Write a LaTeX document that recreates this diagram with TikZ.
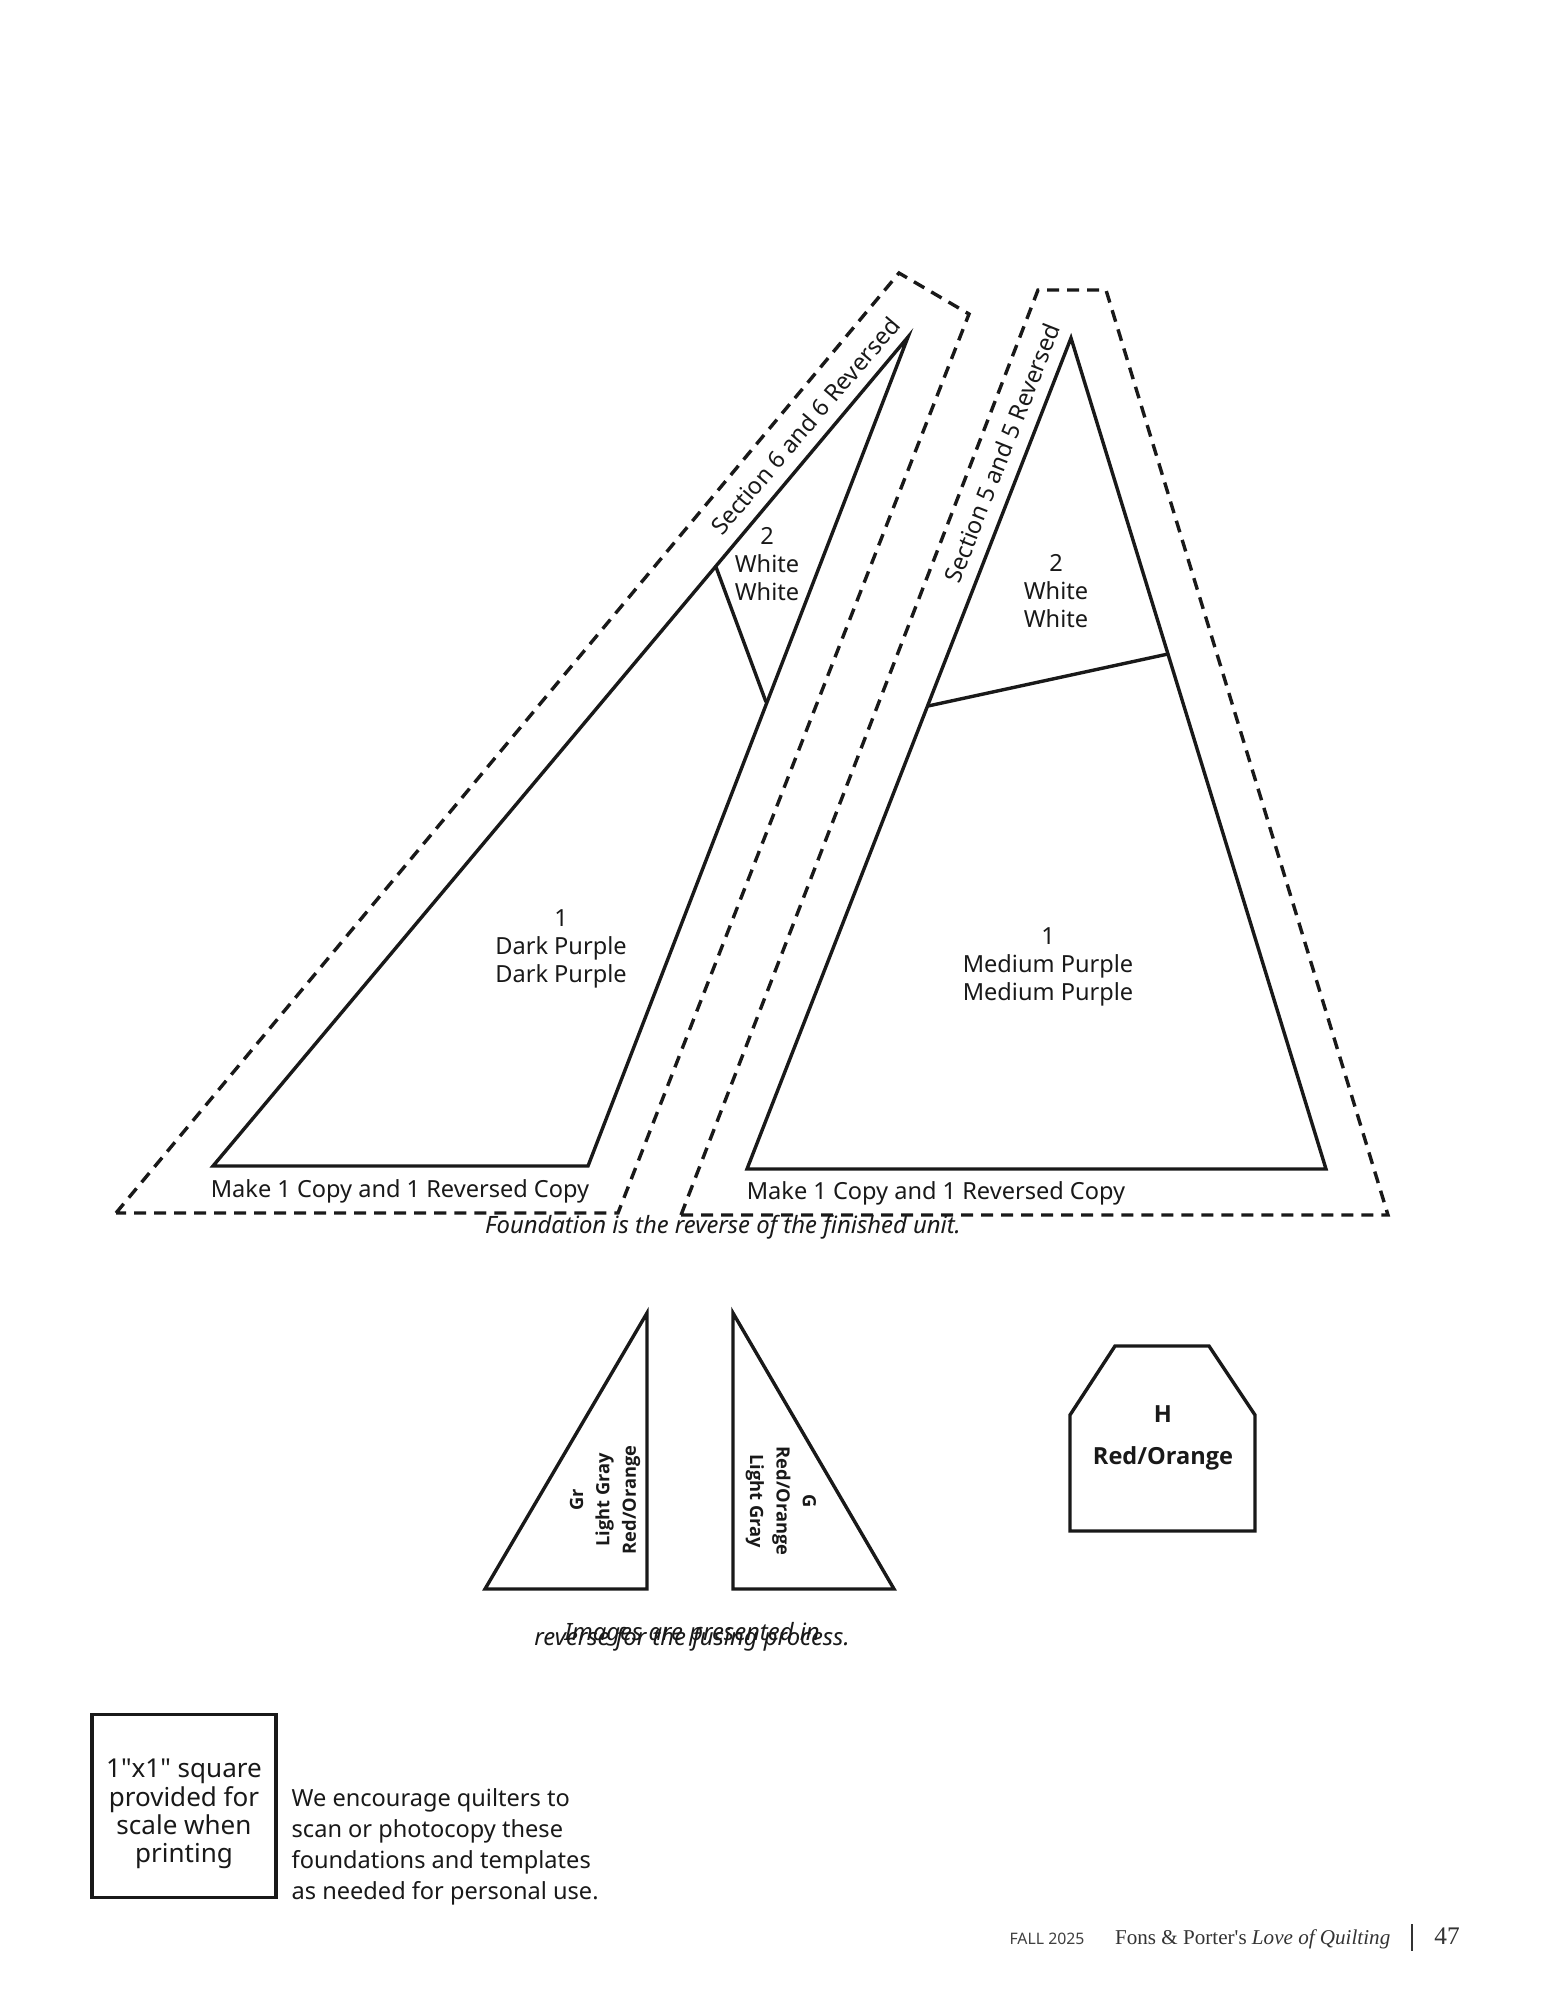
\documentclass[tikz,border=0pt]{standalone}
\usepackage{fontspec}
\setmainfont{Noto Sans}
\newfontfamily\plainfont{Noto Sans}
\newfontfamily\heavyfont{Open Sans}
\newfontfamily\footfont{Liberation Serif}
\tikzstyle{seam} =[line width=0.034cm, line join=miter, black!90]
\tikzstyle{cutline} =[line width=0.034cm, dash pattern=on 0.12cm off 0.08cm, black!90]
\tikzstyle{patch} =[align=center, inner sep=0pt, font=\fontsize{6.7}{7.85}\selectfont, text=black!90]
\tikzstyle{smallpatch} =[patch, font=\heavyfont\fontsize{5.2}{7.5}\selectfont\bfseries]
\tikzstyle{boldpatch} =[patch, font=\heavyfont\fontsize{6.7}{7.85}\selectfont\bfseries]
\tikzstyle{caption} =[inner sep=0pt, font=\fontsize{6.78}{8}\selectfont\itshape, text=black!90]
\begin{document}
\begin{tikzpicture}[x=0.01cm,y=-0.01cm]
		\useasboundingbox (0,0) rectangle (1551,2014);
		\fill[white] (0,0) rectangle (1551,2014);
		% left foundation
		\draw[cutline] (116,1213) -- (899,273) -- (969,314) -- (618,1213) -- cycle;
		\draw[seam] (908,337) -- (213,1166) -- (588,1166) -- cycle;
		\draw[seam] (716,567) -- (766,702);
		\node [patch, rotate=49.5] (secsix) at (805,426) {Section 6 and 6 Reversed};
		\node [patch] (whitesix) at (767,564) {2\\White\\White};
		\node [patch] (darkone) at (561,949) {1\\Dark Purple\\Dark Purple};
		\node [patch] (copysix) at (400,1191) {Make 1 Copy and 1 Reversed Copy};
		% right foundation
		\draw[cutline] (681,1215) -- (1038,290) -- (1106,290) -- (1388,1215) -- cycle;
		\draw[seam] (1071,338) -- (747,1169) -- (1326,1169) -- cycle;
		\draw[seam] (928,706) -- (1168,654);
		\node [patch, rotate=68.5] (secfive) at (1002,453) {Section 5 and 5 Reversed};
		\node [patch] (whitefive) at (1056,591) {2\\White\\White};
		\node [patch] (mediumone) at (1048,967) {1\\Medium Purple\\Medium Purple};
		\node [patch] (copyfive) at (936,1193) {Make 1 Copy and 1 Reversed Copy};
		\node [caption] (foundation) at (723,1227) {Foundation is the reverse of the finished unit.};
		% fusing templates
		\draw[seam] (647,1313) -- (485,1589) -- (647,1589) -- cycle;
		\draw[seam] (733,1313) -- (894,1589) -- (733,1589) -- cycle;
		\draw[seam] (1070,1531) -- (1070,1415) -- (1115,1346) -- (1209,1346) -- (1255,1415) -- (1255,1531) -- cycle;
		\node [smallpatch, rotate=90] (gleft) at (605,1500) {Gr\\Light Gray\\Red/Orange};
		\node [smallpatch, rotate=-90] (gright) at (781,1501) {G\\Red/Orange\\Light Gray};
		\node [boldpatch] (hname) at (1163,1414) {H};
		\node [boldpatch] (hcolor) at (1163,1458) {Red/Orange};
		\node [caption] (imagesone) at (692,1634) {Images are presented in};
		\node [caption] (imagestwo) at (692,1639) {reverse for the fusing process.};
		% scale square
		\node [draw, seam, minimum width=1.84cm, minimum height=1.83cm] (square) at (184,1806) {};
		\node [align=center, inner sep=0pt, font=\plainfont\fontsize{7.4}{8}\selectfont, text=black!90] (squaretext) at (184,1814) {1"x1" square\\provided for\\scale when\\printing};
		\node [anchor=west, align=left, inner sep=0pt, font=\fontsize{6.7}{8.76}\selectfont, text=black!90] (encourage) at (291,1847) {We encourage quilters to\\scan or photocopy these\\foundations and templates\\as needed for personal use.};
		% footer
		\node [inner sep=0pt, font=\fontsize{4.5}{5}\selectfont, text=black!75] (fall) at (1047,1939) {FALL 2025};
		\node [anchor=east, inner sep=0pt, font=\footfont\fontsize{6}{7}\selectfont, text=black!80] (mag) at (1391,1939) {Fons \& Porter's \textit{Love of Quilting}};
		\draw[line width=0.012cm, black!80] (1412,1924) -- (1412,1951);
		\node [inner sep=0pt, font=\footfont\fontsize{7.2}{9}\selectfont, text=black!80] (page) at (1447,1936) {47};
\end{tikzpicture}
\end{document}
